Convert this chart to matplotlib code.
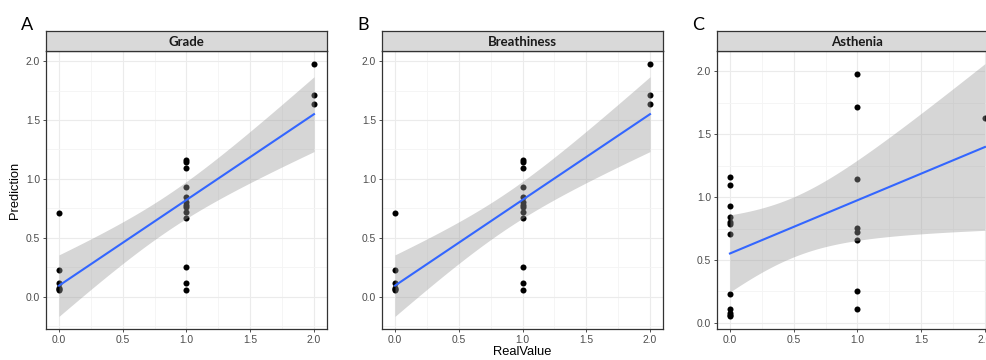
import math
import matplotlib
matplotlib.use("Agg")
import matplotlib.pyplot as plt
import numpy as np

plt.rcParams["font.family"] = ["Liberation Sans", "DejaVu Sans"]

# Data (Prediction vs RealValue)
grade_real = [0] * 6 + [1] * 13 + [2] * 3
grade_pred = [0.708, 0.226, 0.114, 0.076, 0.062, 0.052,
              1.164, 1.143, 1.094, 0.929, 0.844, 0.800, 0.780, 0.759, 0.716,
              0.665, 0.253, 0.119, 0.055,
              1.979, 1.716, 1.633]

breath_real = grade_real
breath_pred = grade_pred

asthenia_real = [0] * 12 + [1] * 8 + [2]
asthenia_pred = [1.164, 1.094, 0.930, 0.846, 0.800, 0.787, 0.708, 0.226,
                 0.114, 0.076, 0.062, 0.052,
                 1.979, 1.716, 1.143, 0.755, 0.719, 0.661, 0.250, 0.114,
                 1.633]

panels = [("A", "Grade", grade_real, grade_pred),
          ("B", "Breathiness", breath_real, breath_pred),
          ("C", "Asthenia", asthenia_real, asthenia_pred)]
ticks = [0.0, 0.5, 1.0, 1.5, 2.0]
tick_labels = ["0.0", "0.5", "1.0", "1.5", "2.0"]


def t_quantile(p, df):
    # 0.975 quantile of Student t from a numerically integrated density
    xs = np.linspace(0, 12, 24001)
    c = math.exp(math.lgamma((df + 1) / 2) - math.lgamma(df / 2)) / math.sqrt(df * math.pi)
    pdf = c * (1 + xs**2 / df) ** (-(df + 1) / 2)
    cdf = 0.5 + np.concatenate([[0], np.cumsum((pdf[1:] + pdf[:-1]) / 2 * np.diff(xs))])
    return np.interp(p, cdf, xs)


def lm_smooth(x, y):
    # linear fit with 95% confidence band, like geom_smooth(method = "lm")
    x = np.asarray(x, float)
    y = np.asarray(y, float)
    n = len(x)
    b, a = np.polyfit(x, y, 1)
    s = math.sqrt(np.sum((y - (a + b * x)) ** 2) / (n - 2))
    sxx = np.sum((x - x.mean()) ** 2)
    xg = np.linspace(x.min(), x.max(), 80)
    fit = a + b * xg
    se = s * np.sqrt(1 / n + (xg - x.mean()) ** 2 / sxx)
    t = t_quantile(0.975, n - 2)
    return xg, fit, fit - t * se, fit + t * se


fig = plt.figure(figsize=(9.87, 3.6), dpi=100)
W, H = 987, 360
lefts = [46.25, 382.25, 717.2]
ax_w = 280.5
ax_top, ax_bot = 51, 329
strip_top = 31
border = "#333333"

for i, (letter, name, xr, yp) in enumerate(panels):
    left = lefts[i]
    ax = fig.add_axes([left / W, (H - ax_bot) / H, ax_w / W, (ax_bot - ax_top) / H])
    xg, fit, lo, hi = lm_smooth(xr, yp)

    ax.scatter(xr, yp, s=19, color="black", linewidths=0, zorder=2)
    ax.fill_between(xg, lo, hi, color="#999999", alpha=0.4, linewidth=0, zorder=3)
    ax.plot(xg, fit, color="#3366FF", linewidth=1.5, zorder=4)

    ax.set_xticks(ticks)
    ax.set_xticklabels(tick_labels)
    ax.set_yticks(ticks)
    ax.set_yticklabels(tick_labels)
    ax.set_xticks([0.25, 0.75, 1.25, 1.75], minor=True)
    ax.set_yticks(np.arange(-0.25, 2.2, 0.5), minor=True)

    # ggplot-style 5% expansion (set after ticks so they don't widen the view)
    ymin = min(min(yp), lo.min())
    ymax = max(max(yp), hi.max())
    pad = 0.05 * (ymax - ymin)
    ax.set_ylim(ymin - pad, ymax + pad)
    ax.set_xlim(-0.1, 2.1)

    ax.grid(True, which="major", color="#EBEBEB", linewidth=0.8, zorder=0)
    ax.grid(True, which="minor", color="#F4F4F4", linewidth=0.6, zorder=0)
    ax.set_axisbelow(True)
    ax.tick_params(which="major", length=2.5, width=0.6, color=border,
                   labelsize=7.4, labelcolor="#4D4D4D", pad=2)
    ax.tick_params(which="minor", length=0)
    for sp in ax.spines.values():
        sp.set_color(border)
        sp.set_linewidth(0.9)

    # facet strip
    sax = fig.add_axes([left / W, (H - ax_top) / H, ax_w / W, (ax_top - strip_top) / H])
    sax.set_facecolor("#D9D9D9")
    sax.set_xticks([])
    sax.set_yticks([])
    for sp in sax.spines.values():
        sp.set_color(border)
        sp.set_linewidth(0.9)
    sax.text(0.5, 0.45, name, transform=sax.transAxes, ha="center", va="center",
             fontsize=9.5, fontweight="bold", color="#1A1A1A", family=["Lato", "DejaVu Sans"])

letter_x = [27, 363, 698]
for (letter, _, _, _), lx in zip(panels, letter_x):
    fig.text(lx / W, (H - 25) / H, letter, ha="center", va="center",
             fontsize=13, family=["Lato", "DejaVu Sans"])

fig.text(15 / W, (H - 190) / H, "Prediction", rotation=90, ha="center", va="center",
         fontsize=9.3)
fig.text(522 / W, (H - 352) / H, "RealValue", ha="center", va="center", fontsize=9.3)

fig.savefig("out.png", dpi=100, facecolor="white")
